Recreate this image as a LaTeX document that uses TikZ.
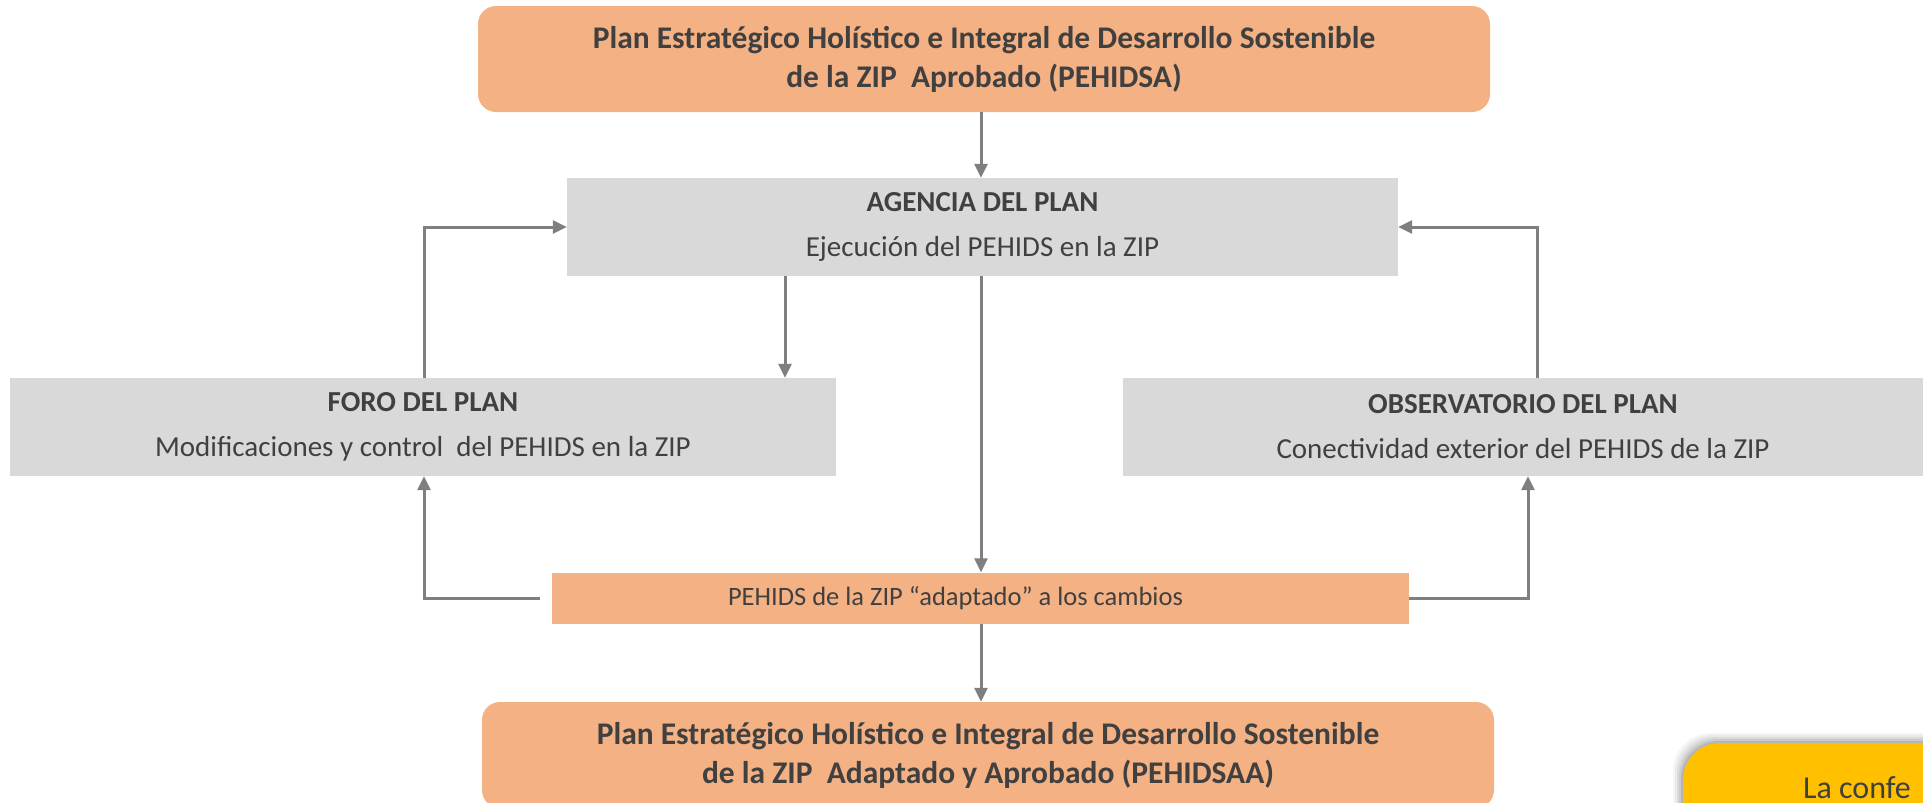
\documentclass[tikz,border=0pt]{standalone}
\usepackage{fontspec}
\setmainfont{Carlito}
\usetikzlibrary{arrows.meta}
\definecolor{orng}{HTML}{F4B183}
\definecolor{gry}{HTML}{D9D9D9}
\definecolor{lin}{HTML}{7F7F7F}
\definecolor{txt}{HTML}{404040}
\definecolor{yel}{HTML}{FFC000}
\begin{document}
\begin{tikzpicture}[x=1pt,y=-1pt,
  every node/.style={text=txt, font=\fontsize{29}{36}\selectfont, inner sep=0pt},
  obox/.style={fill=orng, rounded corners=18pt, align=center, font=\fontsize{31.5}{39}\selectfont\bfseries},
  gbox/.style={fill=gry, align=center},
  arr/.style={draw=lin, line width=3pt, -{Triangle[length=14pt,width=13pt]}}]
\useasboundingbox (0,0) rectangle (1923,803);
\clip (0,0) rectangle (1923,803);
\node[obox, minimum width=1012pt, minimum height=106pt] (top) at (984,59)
  {Plan Estratégico Holístico e Integral de Desarrollo Sostenible\\de la ZIP\ \ Aprobado (PEHIDSA)};
\node[gbox, minimum width=831pt, minimum height=98pt] (agency) at (982.5,227)
  {\textbf{AGENCIA DEL PLAN}\\[9pt]Ejecución del PEHIDS en la ZIP};
\node[gbox, minimum width=826pt, minimum height=98pt] (foro) at (423,427)
  {\textbf{FORO DEL PLAN}\\[9pt]Modificaciones y control\ \ del PEHIDS en la ZIP};
\node[gbox, minimum width=800pt, minimum height=98pt] (obs) at (1523,427)
  {\textbf{OBSERVATORIO DEL PLAN}\\[9pt]Conectividad exterior del PEHIDS de la ZIP};
\node[fill=orng, minimum width=857pt, minimum height=51pt, font=\fontsize{26.5}{32}\selectfont] (adapt) at (980.5,598)
  {PEHIDS de la ZIP “adaptado” a los cambios\kern50pt};
\node[obox, minimum width=1012pt, minimum height=106pt] (bottom) at (988,755)
  {Plan Estratégico Holístico e Integral de Desarrollo Sostenible\\de la ZIP\ \ Adaptado y Aprobado (PEHIDSAA)};
% yellow note with soft shadow
\foreach \s/\o in {10/0.04,8/0.05,6/0.06,4/0.08,2/0.10}{
  \fill[black, opacity=\o, rounded corners=38pt] (1683-\s,743-\s) rectangle (2200,1000);
}
\node[fill=yel, rounded corners=36pt, minimum width=400pt, minimum height=200pt, anchor=north west] (note) at (1683,743) {};
\node[anchor=base west, font=\fontsize{32}{38}\selectfont] (notetext) at (1803,798) {La confe};
% connectors
\draw[arr] (top.south -| 981,0) -- (agency.north -| 981,0);
\draw[arr] (foro.north -| 424,0) |- (agency.west);
\draw[arr] (obs.north -| 1537,0) |- (agency.east);
\draw[arr] (agency.south -| 785,0) -- (foro.north -| 785,0);
\draw[arr] (agency.south -| 981,0) -- (adapt.north -| 981,0);
\draw[arr] ([xshift=-12pt]adapt.west) -| (foro.south -| 424,0);
\draw[arr] (adapt.east) -| (obs.south -| 1528,0);
\draw[arr] (adapt.south -| 981,0) -- (bottom.north -| 981,0);
\end{tikzpicture}
\end{document}
